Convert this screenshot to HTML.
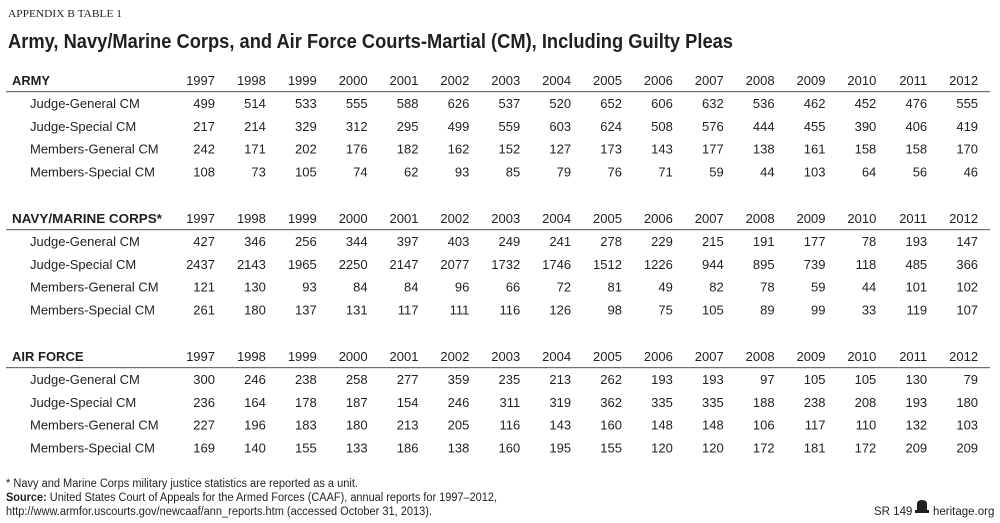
<!DOCTYPE html>
<html><head><meta charset="utf-8"><style>
html,body{margin:0;padding:0;background:#fff}
svg{display:block;font-family:"Liberation Sans",sans-serif;fill:#231f20}
</style></head><body>
<svg id="s" width="1000" height="523" viewBox="0 0 1000 523">
<text x="8" y="17" font-family="Liberation Serif" font-size="11" textLength="114" lengthAdjust="spacingAndGlyphs">APPENDIX B TABLE 1</text>
<text x="8" y="48" font-size="20" font-weight="bold" textLength="725" lengthAdjust="spacingAndGlyphs">Army, Navy/Marine Corps, and Air Force Courts-Martial (CM), Including Guilty Pleas</text>
<g id="tbl"></g>
<text x="6" y="487" font-size="11.5" textLength="352" lengthAdjust="spacingAndGlyphs">* Navy and Marine Corps military justice statistics are reported as a unit.</text>
<text x="6" y="501" font-size="11.5" textLength="491" lengthAdjust="spacingAndGlyphs"><tspan font-weight="bold">Source:</tspan> United States Court of Appeals for the Armed Forces (CAAF), annual reports for 1997–2012,</text>
<text x="6" y="515" font-size="11.5" textLength="426" lengthAdjust="spacingAndGlyphs">http://www.armfor.uscourts.gov/newcaaf/ann_reports.htm (accessed October 31, 2013).</text>
<text x="874" y="515" font-size="11.5">SR 149</text>
<g><path d="M917 504 q0-4 5-4 q5 0 5 4 v6 h-10z" fill="#231f20"/><rect x="915" y="510" width="14" height="3" fill="#231f20"/></g>
<text x="933" y="515" font-size="11.5">heritage.org</text>
</svg>
<script>
const years=["1997","1998","1999","2000","2001","2002","2003","2004","2005","2006","2007","2008","2009","2010","2011","2012"];
const sections=["ARMY","NAVY/MARINE CORPS*","AIR FORCE"];
const rowLabels=["Judge-General CM","Judge-Special CM","Members-General CM","Members-Special CM"];
const armyValues=[[499,514,533,555,588,626,537,520,652,606,632,536,462,452,476,555],[217,214,329,312,295,499,559,603,624,508,576,444,455,390,406,419],[242,171,202,176,182,162,152,127,173,143,177,138,161,158,158,170],[108,73,105,74,62,93,85,79,76,71,59,44,103,64,56,46]];
const navyValues=[[427,346,256,344,397,403,249,241,278,229,215,191,177,78,193,147],[2437,2143,1965,2250,2147,2077,1732,1746,1512,1226,944,895,739,118,485,366],[121,130,93,84,84,96,66,72,81,49,82,78,59,44,101,102],[261,180,137,131,117,111,116,126,98,75,105,89,99,33,119,107]];
const airValues=[[300,246,238,258,277,359,235,213,262,193,193,97,105,105,130,79],[236,164,178,187,154,246,311,319,362,335,335,188,238,208,193,180],[227,196,183,180,213,205,116,143,160,148,148,106,117,110,132,103],[169,140,155,133,186,138,160,195,155,120,120,172,181,172,209,209]];
const all=[armyValues,navyValues,airValues];
const NS="http://www.w3.org/2000/svg",g=document.getElementById('tbl');
const tops=[85,223,361],rowH=22.8;
const colX=i=>215+i*50.87;
function t(x,y,s,opt){const e=document.createElementNS(NS,'text');e.setAttribute('x',x);e.setAttribute('y',y);e.setAttribute('font-size',opt.fs||13);if(opt.anchor)e.setAttribute('text-anchor',opt.anchor);if(opt.bold)e.setAttribute('font-weight','bold');if(opt.tl){e.setAttribute('textLength',opt.tl);e.setAttribute('lengthAdjust','spacingAndGlyphs');}e.textContent=s;g.appendChild(e);return e;}
sections.forEach((sec,si)=>{
 const y0=tops[si];
 const h=t(12,y0,sec,{bold:true,fs:13,tl:si==1?150:(si==0?38:null)});
 
 
 years.forEach((yr,i)=>{const e=t(colX(i),y0,yr,{anchor:'end',fs:13});
  
  });
 const l=document.createElementNS(NS,'rect');l.setAttribute('x',6);l.setAttribute('y',y0+6);l.setAttribute('width',984);l.setAttribute('height',1.2);l.setAttribute('fill','#6d6e71');
 
 
 g.appendChild(l);
 rowLabels.forEach((rl,ri)=>{
  const y=y0+23+ri*rowH;
  const e=t(30,y,rl,{fs:13});
  
  
  all[si][ri].forEach((v,i)=>{const c=t(colX(i),y,String(v),{anchor:'end',fs:13});
   
   });
 });
});
</script>
</body></html>
